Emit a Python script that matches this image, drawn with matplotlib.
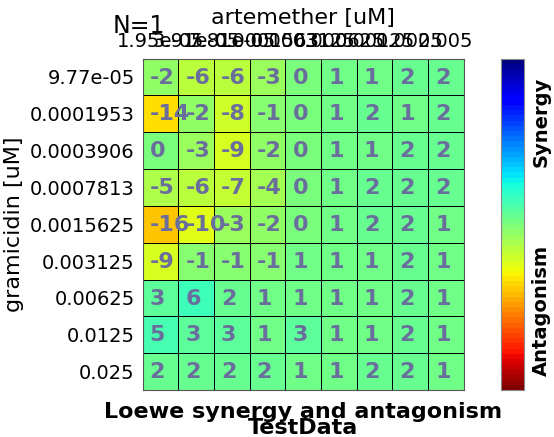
import numpy as np
import matplotlib
matplotlib.use('Agg')
import matplotlib.pyplot as plt
from matplotlib import colors, colorbar

# concentrations
artemether = ['1.95e-05', '3.91e-05', '7.81e-05', '0.0001563', '0.0003125',
              '0.000625', '0.00125', '0.0025', '0.005']
gramicidin = ['9.77e-05', '0.0001953', '0.0003906', '0.0007813', '0.0015625',
              '0.003125', '0.00625', '0.0125', '0.025']

# loewe scores, rows = gramicidin, cols = artemether
loewe = np.array([
    [-2, -6, -6, -3, 0, 1, 1, 2, 2],
    [-14, -2, -8, -1, 0, 1, 2, 1, 2],
    [0, -3, -9, -2, 0, 1, 1, 2, 2],
    [-5, -6, -7, -4, 0, 1, 2, 2, 2],
    [-16, -10, -3, -2, 0, 1, 2, 2, 1],
    [-9, -1, -1, -1, 1, 1, 1, 2, 1],
    [3, 6, 2, 1, 1, 1, 1, 2, 1],
    [5, 3, 3, 1, 3, 1, 1, 2, 1],
    [2, 2, 2, 2, 1, 1, 2, 2, 1],
])

vmin, vmax = -40, 40
cmap = plt.get_cmap('jet_r')
norm = colors.Normalize(vmin=vmin, vmax=vmax)

fig = plt.figure(figsize=(5.54, 4.37), dpi=100)
ax = fig.add_axes([142.5/554, 1-390/437, (463.7-142.5)/554, (390-58.5)/437])

ax.pcolormesh(loewe, cmap=cmap, norm=norm, edgecolors='k', linewidth=0.6)
ax.set_xlim(0, loewe.shape[1])
ax.set_ylim(loewe.shape[0], 0)

for i in range(loewe.shape[0]):
    for j in range(loewe.shape[1]):
        ax.text(j + 0.2, i + 0.52, str(loewe[i, j]), ha='left', va='center',
                fontsize=16, fontweight='bold', color='#6a6e9c')

ax.xaxis.tick_top()
ax.xaxis.set_label_position('top')
ax.set_xticks(np.arange(len(artemether)) + 0.5)
ax.set_xticklabels(artemether)
ax.set_yticks(np.arange(len(gramicidin)) + 0.5)
ax.set_yticklabels(gramicidin)
ax.tick_params(axis='both', length=0, labelsize=14, pad=5.5)
ax.set_xlabel('artemether [uM]', fontsize=16, labelpad=6)
ax.set_ylabel('gramicidin [uM]', fontsize=16)
for axis in ['top', 'bottom', 'left', 'right']:
    ax.spines[axis].set_color('#555555')

fig.text(303/554, 1-418/437, 'Loewe synergy and antagonism', ha='center',
         va='baseline', fontsize=16, fontweight='bold')
fig.text(303/554, 1-434/437, 'TestData', ha='center',
         va='baseline', fontsize=16, fontweight='bold')

fig.text(113/554, 1-33/437, 'N=1', fontsize=17, va='baseline')

# colorbar
cax = fig.add_axes([500.5/554, 1-390/437, 23.5/554, (390-58.5)/437])
cb = colorbar.ColorbarBase(cax, cmap=plt.get_cmap('jet_r', 64), norm=norm)
cb.set_ticks([])
cb.outline.set_edgecolor('#888888')
cax.text(1.75, 0.81, 'Synergy', transform=cax.transAxes, rotation=90,
         ha='center', va='center', fontsize=14, fontweight='bold')
cax.text(1.75, 0.24, 'Antagonism', transform=cax.transAxes, rotation=90,
         ha='center', va='center', fontsize=14, fontweight='bold')

fig.savefig('out.png', dpi=100)
